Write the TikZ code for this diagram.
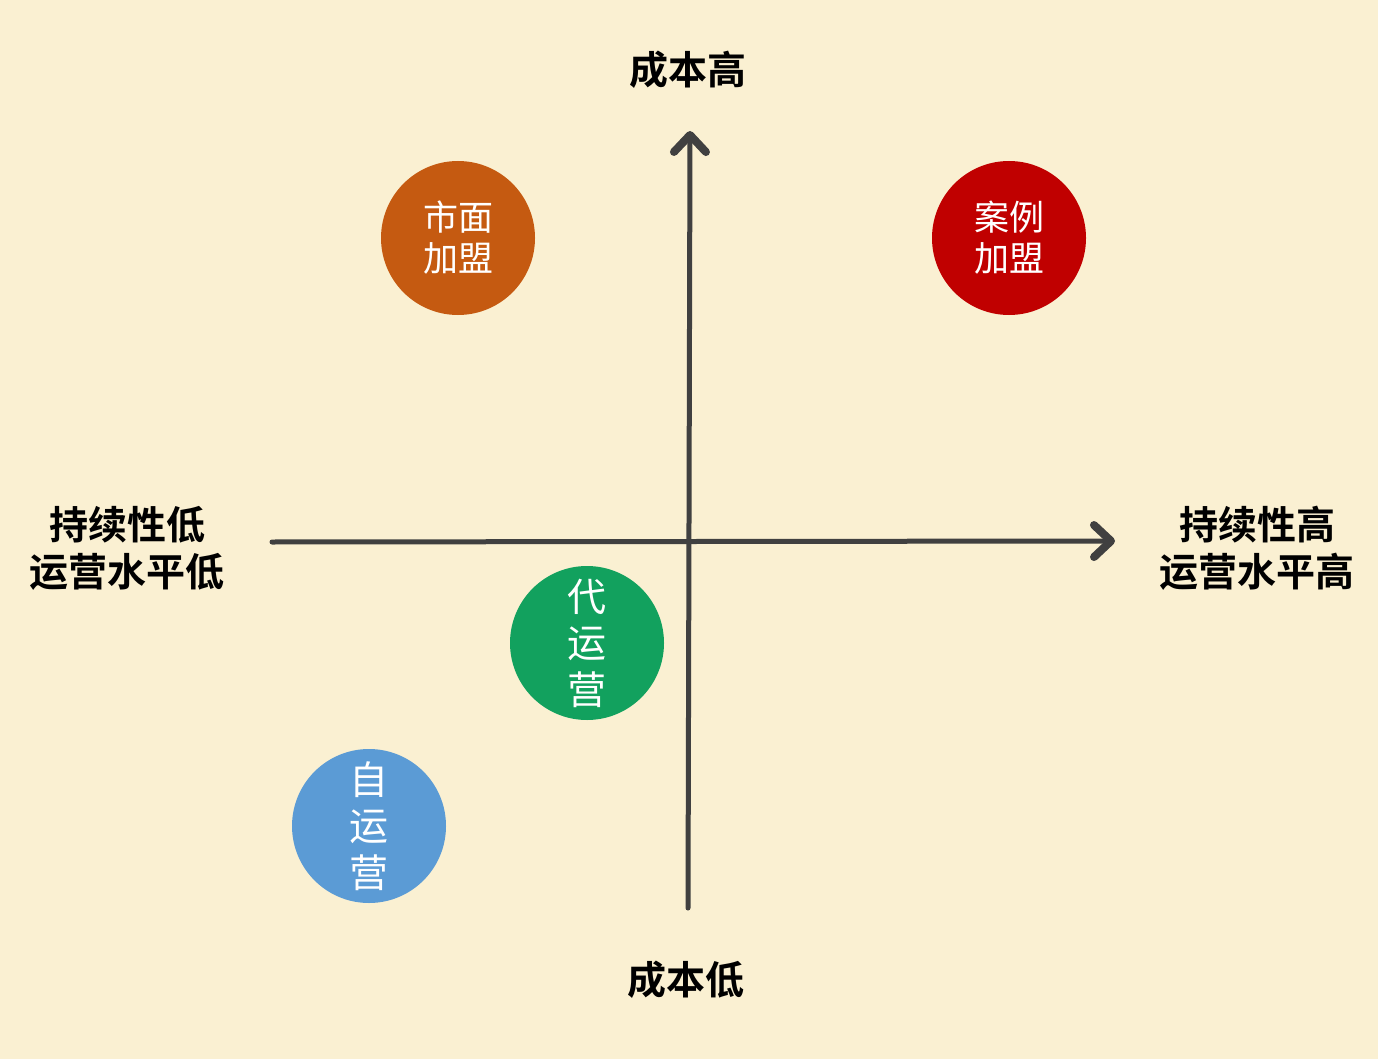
\documentclass[tikz,border=0pt]{standalone}
\usepackage{fontspec}
\newfontfamily\cjk{Noto Sans CJK SC}
\newfontfamily\cjkb{Noto Sans CJK SC Bold}
\usetikzlibrary{arrows.meta}
\definecolor{bgc}{RGB}{250,240,210}
\definecolor{axisc}{RGB}{64,64,64}
\definecolor{orangec}{RGB}{197,90,17}
\definecolor{redc}{RGB}{192,0,0}
\definecolor{greenc}{RGB}{18,161,94}
\definecolor{bluec}{RGB}{91,155,213}
\tikzset{
  axisline/.style={draw=axisc, line width=5pt, line cap=round,
    -{Straight Barb[length=17pt,width=32pt,line width=8pt,round]}},
  bubble/.style={circle, minimum size=154pt, inner sep=0pt, text=white,
    font=\cjk\fontsize{35}{41}\selectfont, align=center},
  vbubble/.style={bubble, font=\cjk\fontsize{39}{46.5}\selectfont},
  axlabel/.style={font=\cjkb\fontsize{39}{47}\selectfont, text=black, align=center, inner sep=0pt}
}
\begin{document}
\begin{tikzpicture}[x=1pt,y=-1pt]
\fill[bgc] (0,0) rectangle (1378,1059);
\useasboundingbox (0,0) rectangle (1378,1059);
\coordinate (vb) at (688,908);
\coordinate (vt) at (690,131);
\coordinate (hl) at (272,542);
\coordinate (hr) at (1115,541);
\draw[axisline] (vb) -- (vt);
\draw[axisline] (hl) -- (hr);
\node[bubble, fill=orangec] (shimian) at (458,238) {市面\\加盟};
\node[bubble, fill=redc] (anli) at (1009,238) {案例\\加盟};
\node[vbubble, fill=greenc] (dai) at (587,643) {代\\运\\营};
\node[vbubble, fill=bluec] (zi) at (369,826) {自\\运\\营};
\node[axlabel] (top) at (688,70) {成本高};
\node[axlabel] (bottom) at (686,980) {成本低};
\node[axlabel] (left) at (127,548) {持续性低\\运营水平低};
\node[axlabel] (right) at (1257,548) {持续性高\\运营水平高};
\end{tikzpicture}
\end{document}
